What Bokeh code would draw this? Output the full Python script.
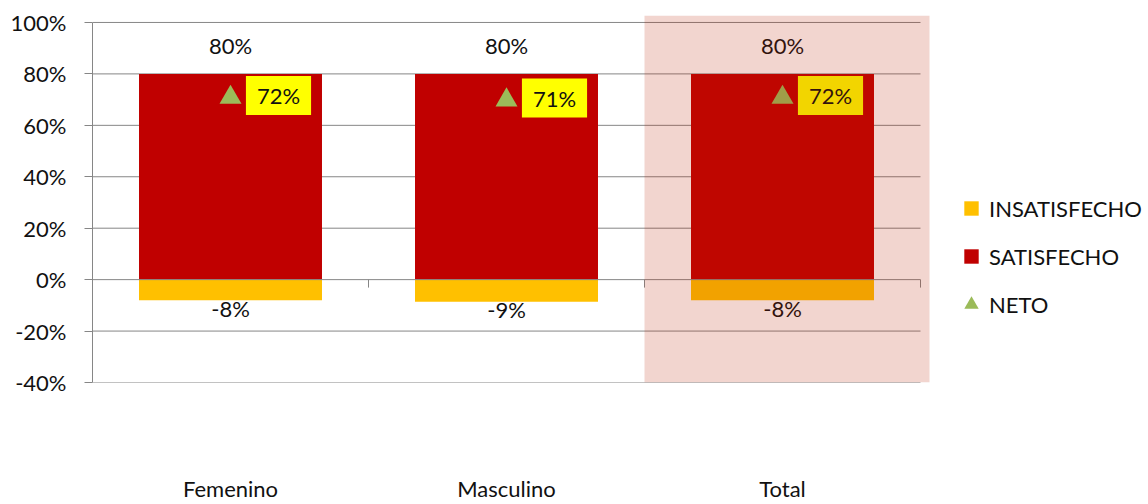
from bokeh.plotting import figure
from bokeh.models import (Range1d, FixedTicker, LinearAxis, Legend, LegendItem,
                          NumeralTickFormatter, ColumnDataSource)
from bokeh.core.properties import value
from bokeh.transform import dodge
from bokeh.embed import file_html
from bokeh.resources import INLINE

# ---- data ----
categories = ["Femenino", "Masculino", "Total"]
satisfecho = [0.80, 0.80, 0.80]
insatisfecho = [-0.08, -0.086, -0.08]
neto = [0.72, 0.71, 0.72]
y_ticks = [-0.4, -0.2, 0.0, 0.2, 0.4, 0.6, 0.8, 1.0]
highlight = "Total"
series_names = ["INSATISFECHO", "SATISFECHO", "NETO"]

# ---- style ----
FONT = "Lato"
FS = "22px"
C_SAT = "#C00000"
C_INS = "#FFC000"
C_NETO = "#9BBB59"
GRID = "#868686"
TXT = "#111111"

W, H = 1148, 504
B_LEFT, B_RIGHT, B_TOP, B_BOTTOM = 92, 0, 15, 120
frame_w = W - B_LEFT - B_RIGHT
frame_h = H - B_TOP - B_BOTTOM
n = len(categories)
px_x = 276.0                   # pixels per category
px_y = 362.0 / 1.4             # pixels per unit on y
x_end = frame_w / px_x
y_start = y_ticks[0]
y_end = y_start + frame_h / px_y
hl_extra = 9.0 / px_x          # highlight sticks out past the plot area

p = figure(width=W, height=H, output_backend="svg", toolbar_location=None,
           x_range=Range1d(0, x_end), y_range=Range1d(y_start, y_end),
           x_axis_type=None, y_axis_type=None,
           min_border_left=B_LEFT, min_border_right=B_RIGHT,
           min_border_top=B_TOP, min_border_bottom=B_BOTTOM)
p.outline_line_color = None
p.background_fill_color = "white"
p.border_fill_color = "white"

xs = [i + 0.5 for i in range(n)]

# gridlines (except zero, drawn over bars)
grid_vals = [t for t in y_ticks if t != 0]
p.segment(x0=[0] * len(grid_vals), x1=[n] * len(grid_vals), y0=grid_vals, y1=grid_vals,
          line_color=GRID, line_width=1)

# bars
p.vbar(x=xs, top=satisfecho, bottom=0, width=0.663, fill_color=C_SAT, line_color=None)
p.vbar(x=xs, top=0, bottom=insatisfecho, width=0.663, fill_color=C_INS, line_color=None)

# zero axis line with category boundary ticks
p.segment(x0=[0], x1=[n], y0=[0], y1=[0], line_color=GRID, line_width=1)
tick_len = 8 / px_y
p.segment(x0=list(range(n + 1)), x1=list(range(n + 1)), y0=[0] * (n + 1),
          y1=[-tick_len] * (n + 1), line_color=GRID, line_width=1)

# neto markers (marker bbox centred on the value)
neto_src = ColumnDataSource(data=dict(x=xs, y=neto))
p.scatter(x="x", y=dodge("y", -3.0 / px_y, range=p.y_range),
          source=neto_src, marker="triangle", size=22,
          fill_color=C_NETO, line_color=None)

# labels
p.text(x=xs, y=satisfecho, text=[f"{v*100:.0f}%" for v in satisfecho], y_offset=-28,
       text_align="center", text_baseline="middle", text_font=value(FONT),
       text_font_size=FS, text_color=TXT)
p.text(x=xs, y=insatisfecho, text=[f"{v*100:.0f}%" for v in insatisfecho], y_offset=8,
       text_align="center", text_baseline="middle", text_font=value(FONT),
       text_font_size=FS, text_color=TXT)
p.text(x=xs, y=neto, text=[f"{v*100:.0f}%" for v in neto], x_offset=48, y_offset=1,
       text_align="center", text_baseline="middle", text_font=value(FONT),
       text_font_size=FS, text_color=TXT, background_fill_color="#FFFF00",
       padding=(11, 6))

# highlight overlay on the Total column
hi = categories.index(highlight)
p.quad(left=[hi], right=[hi + 1 + hl_extra], bottom=[y_start], top=[y_end],
       fill_color=(187, 34, 0), fill_alpha=0.19, line_color=None)

# y axis
yaxis = LinearAxis(ticker=FixedTicker(ticks=y_ticks), bounds=(y_ticks[0], y_ticks[-1]),
                   formatter=NumeralTickFormatter(format="0%"),
                   axis_line_color=GRID, major_tick_line_color=GRID,
                   major_tick_out=8, major_tick_in=0, minor_tick_line_color=None,
                   major_label_standoff=18, major_label_text_font=FONT,
                   major_label_text_font_size=FS, major_label_text_color=TXT)
p.add_layout(yaxis, "left")

# category axis (labels only)
xaxis = LinearAxis(ticker=FixedTicker(ticks=xs),
                   major_label_overrides={x: c for x, c in zip(xs, categories)},
                   axis_line_color=None, major_tick_line_color=None,
                   minor_tick_line_color=None, major_tick_out=0, major_tick_in=0,
                   major_label_standoff=92, major_label_text_font=FONT,
                   major_label_text_font_size=FS, major_label_text_color=TXT)
p.add_layout(xaxis, "below")

# legend proxies (squares / triangle, drawn only in the legend)
proxy = ColumnDataSource(data=dict(x=[-10], y=[0]))
l_ins = p.scatter(x="x", y="y", source=proxy, marker="square", fill_color=C_INS, line_color=None)
l_sat = p.scatter(x="x", y="y", source=proxy, marker="square", fill_color=C_SAT, line_color=None)
l_net = p.scatter(x="x", y="y", source=proxy, marker="triangle", fill_color=C_NETO, line_color=None)
legend = Legend(items=[LegendItem(label=series_names[0], renderers=[l_ins]),
                       LegendItem(label=series_names[1], renderers=[l_sat]),
                       LegendItem(label=series_names[2], renderers=[l_net])],
                location=(861, 54), glyph_width=36, glyph_height=48, label_standoff=0,
                spacing=0, padding=0, margin=0, border_line_color=None,
                background_fill_alpha=0, label_text_font=FONT,
                label_text_font_size=FS, label_text_color=TXT)
p.add_layout(legend, "center")

open("out.html", "w").write(file_html(p, INLINE))
